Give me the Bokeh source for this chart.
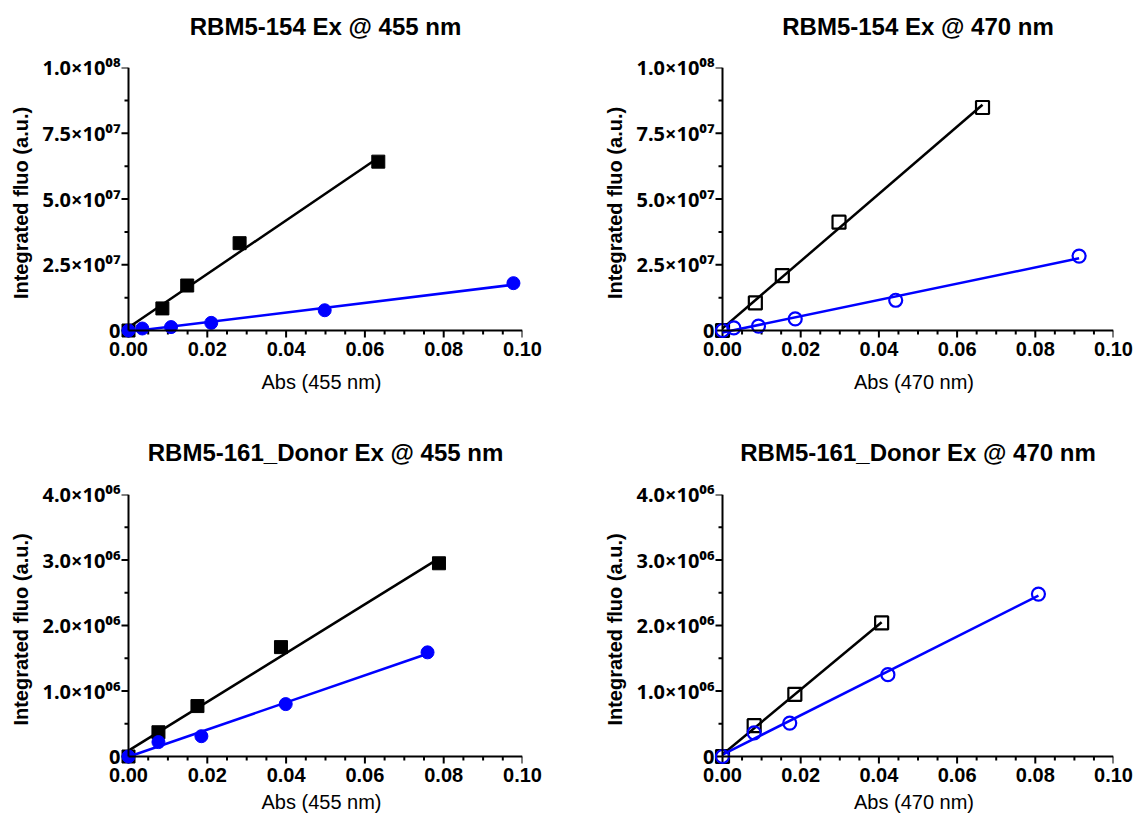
import math
import numpy as np
from bokeh.plotting import figure
from bokeh.layouts import column, row
from bokeh.models import Range1d, FixedTicker, NumeralTickFormatter, LinearAxis
from bokeh.embed import file_html
from bokeh.resources import INLINE

# ---------------- data ----------------
titles = ["RBM5-154 Ex @ 455 nm", "RBM5-154 Ex @ 470 nm",
          "RBM5-161_Donor Ex @ 455 nm", "RBM5-161_Donor Ex @ 470 nm"]
x_titles = ["Abs (455 nm)", "Abs (470 nm)", "Abs (455 nm)", "Abs (470 nm)"]
y_title = "Integrated fluo (a.u.)"

x_ticks = [0.0, 0.02, 0.04, 0.06, 0.08, 0.10]
y_ticks_top = [0.0, 2.5e7, 5.0e7, 7.5e7, 1.0e8]
y_ticks_bottom = [0.0, 1.0e6, 2.0e6, 3.0e6, 4.0e6]

# panel 1: RBM5-154 Ex @ 455 nm (filled)
p1_sq_x = [0.0, 0.0086, 0.0149, 0.0282, 0.0634]
p1_sq_y = [0.0, 8.4e6, 1.71e7, 3.32e7, 6.42e7]
p1_ci_x = [0.0, 0.0035, 0.0108, 0.0210, 0.0498, 0.0977]
p1_ci_y = [0.0, 7.6e5, 1.3e6, 2.9e6, 7.7e6, 1.80e7]

# panel 2: RBM5-154 Ex @ 470 nm (open)
p2_sq_x = [0.0, 0.0084, 0.0153, 0.0298, 0.0665]
p2_sq_y = [0.0, 1.05e7, 2.09e7, 4.12e7, 8.48e7]
p2_ci_x = [0.0, 0.0029, 0.0092, 0.0186, 0.0443, 0.0912]
p2_ci_y = [0.0, 1.0e6, 1.65e6, 4.4e6, 1.15e7, 2.83e7]

# panel 3: RBM5-161_Donor Ex @ 455 nm (filled)
p3_sq_x = [0.0, 0.0076, 0.0175, 0.0387, 0.0788]
p3_sq_y = [0.0, 3.7e5, 7.7e5, 1.67e6, 2.95e6]
p3_ci_x = [0.0, 0.0076, 0.0185, 0.0399, 0.0759]
p3_ci_y = [0.0, 2.2e5, 3.1e5, 8.0e5, 1.59e6]

# panel 4: RBM5-161_Donor Ex @ 470 nm (open)
p4_sq_x = [0.0, 0.0081, 0.0185, 0.0407]
p4_sq_y = [0.0, 4.7e5, 9.5e5, 2.04e6]
p4_ci_x = [0.0, 0.0081, 0.0172, 0.0423, 0.0808]
p4_ci_y = [0.0, 3.6e5, 5.1e5, 1.25e6, 2.48e6]

BLACK = "#000000"
BLUE = "#0000FF"
FONT = "Liberation Sans"
SCI_FONT = "Noto Sans"

SUP = str.maketrans("0123456789", "\u2070\u00b9\u00b2\u00b3\u2074\u2075\u2076\u2077\u2078\u2079")


def sci_label(v):
    if v == 0:
        return "0"
    e = int(np.floor(np.log10(v) + 1e-9))
    m = round(v / 10 ** e, 6)
    return f"{m:.1f}\u00d710" + f"{e:02d}".translate(SUP)


def minor_between(ticks, n):
    out = []
    for a, b in zip(ticks[:-1], ticks[1:]):
        for k in range(1, n):
            out.append(a + (b - a) * k / n)
    return out


def style_line_axis(ax):
    # axis drawn at data zero: the axis line only
    ax.fixed_location = 0
    ax.axis_line_width = 2
    ax.axis_line_color = "black"
    ax.major_tick_line_color = None
    ax.minor_tick_line_color = None
    ax.major_tick_out = 0
    ax.major_tick_in = 0
    ax.minor_tick_out = 0
    ax.minor_tick_in = 0
    ax.major_label_text_font_size = "0px"
    ax.major_label_standoff = 0


def style_label_axis(ax):
    # axis at the frame edge: labels only
    ax.axis_line_color = None
    ax.major_tick_line_color = None
    ax.minor_tick_line_color = None
    ax.major_tick_out = 0
    ax.major_tick_in = 0
    ax.minor_tick_out = 0
    ax.minor_tick_in = 0
    ax.major_label_text_font = FONT
    ax.major_label_text_font_style = "bold"
    ax.major_label_text_font_size = "20px"
    ax.major_label_text_color = "black"
    ax.axis_label_text_font = FONT
    ax.axis_label_text_font_size = "20px"
    ax.axis_label_text_color = "black"


def make_panel(title, xlab, sq_x, sq_y, ci_x, ci_y, y_ticks, hollow,
               width, height, b_left, b_top, ax_w, ax_h, title_pad,
               xlab_standoff, tick_major=7, tick_minor=4, pad=8):
    xmax = x_ticks[-1]
    ymax = y_ticks[-1]
    xr = Range1d(-xmax * pad / ax_w, xmax)
    yr = Range1d(-ymax * pad / ax_h, ymax)
    fw = ax_w + pad
    fh = ax_h + pad
    p = figure(width=width, height=height, x_range=xr, y_range=yr,
               output_backend="svg", toolbar_location=None,
               min_border_left=b_left, min_border_top=b_top,
               min_border_right=width - b_left - fw,
               min_border_bottom=height - b_top - fh)
    p.outline_line_color = None
    p.grid.visible = False
    p.background_fill_color = "white"

    p.title.text = title
    p.title.align = "center"
    p.title.text_font = FONT
    p.title.text_font_style = "bold"
    p.title.text_font_size = "24px"
    p.title.text_color = "black"
    p.title.padding = dict(left=8, right=0, top=0, bottom=title_pad)

    x_minor = minor_between(x_ticks, 4)
    y_minor = minor_between(y_ticks, 2)
    xt = FixedTicker(ticks=x_ticks, minor_ticks=x_minor)
    yt = FixedTicker(ticks=y_ticks, minor_ticks=y_minor)

    xa = p.xaxis[0]
    style_label_axis(xa)
    xa.ticker = xt
    xa.formatter = NumeralTickFormatter(format="0.00")
    xa.axis_label = xlab
    xa.axis_label_text_font_style = "normal"
    xa.major_label_standoff = 3
    xa.axis_label_standoff = xlab_standoff

    ya = p.yaxis[0]
    style_label_axis(ya)
    ya.ticker = yt
    ya.major_label_overrides = {t: sci_label(t) for t in y_ticks}
    ya.major_label_text_font = SCI_FONT
    ya.axis_label = y_title
    ya.axis_label_text_font_style = "bold"
    ya.major_label_standoff = 0
    ya.axis_label_standoff = 8

    xl = LinearAxis(ticker=xt, bounds=(0, xmax))
    style_line_axis(xl)
    xl.major_label_overrides = {t: "" for t in x_ticks}
    p.add_layout(xl, "below")
    yl = LinearAxis(ticker=yt, bounds=(0, ymax))
    style_line_axis(yl)
    yl.major_label_overrides = {t: "" for t in y_ticks}
    p.add_layout(yl, "left")

    # tick marks hanging off the zero lines (screen-length rays)
    tick_kw = dict(length_units="screen", line_color="black", line_width=2)
    p.ray(x=x_ticks, y=[0.0] * len(x_ticks), length=tick_major, angle=-math.pi / 2, **tick_kw)
    p.ray(x=x_minor, y=[0.0] * len(x_minor), length=tick_minor, angle=-math.pi / 2, **tick_kw)
    p.ray(x=[0.0] * len(y_ticks), y=y_ticks, length=tick_major, angle=math.pi, **tick_kw)
    p.ray(x=[0.0] * len(y_minor), y=y_minor, length=tick_minor, angle=math.pi, **tick_kw)

    for xs, ys, color, marker in ((sq_x, sq_y, BLACK, "square"),
                                  (ci_x, ci_y, BLUE, "circle")):
        k, b = np.polyfit(xs, ys, 1)
        xf = [min(xs), max(xs)]
        yf = [k * v + b for v in xf]
        p.line(xf, yf, line_color=color, line_width=2.5)
        if hollow:
            p.scatter(xs, ys, marker=marker, size=13, line_color=color,
                      line_width=2.2, fill_alpha=0)
        else:
            p.scatter(xs, ys, marker=marker, size=13, line_color=color,
                      fill_color=color, line_width=1)
    return p


f1 = make_panel(titles[0], x_titles[0], p1_sq_x, p1_sq_y, p1_ci_x, p1_ci_y,
                y_ticks_top, False, 568, 406, 120, 67, 394, 263, 23, 12)
f2 = make_panel(titles[1], x_titles[1], p2_sq_x, p2_sq_y, p2_ci_x, p2_ci_y,
                y_ticks_top, True, 569, 406, 146, 67, 391, 263, 23, 12)
f3 = make_panel(titles[2], x_titles[2], p3_sq_x, p3_sq_y, p3_ci_x, p3_ci_y,
                y_ticks_bottom, False, 568, 414, 120, 88, 394, 262, 24, 6)
f4 = make_panel(titles[3], x_titles[3], p4_sq_x, p4_sq_y, p4_ci_x, p4_ci_y,
                y_ticks_bottom, True, 569, 414, 146, 88, 391, 262, 24, 6)

layout = column(row(f1, f2), row(f3, f4))
open("out.html", "w").write(file_html(layout, INLINE))
